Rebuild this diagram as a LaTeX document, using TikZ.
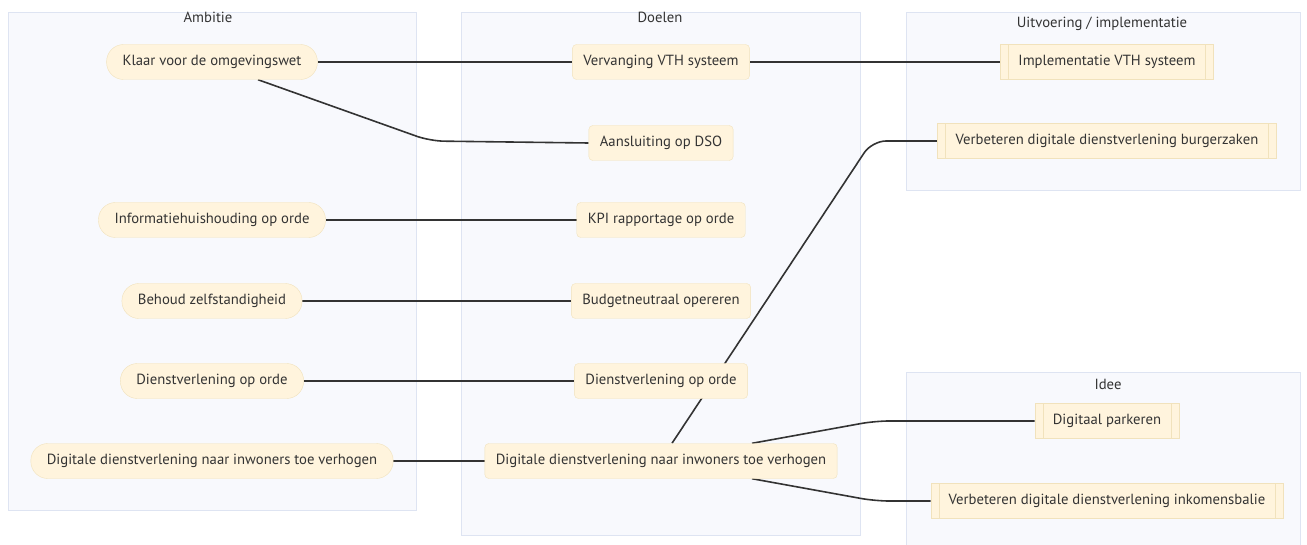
\documentclass[tikz,border=0pt]{standalone}
\usepackage{fontspec}
\setmainfont{PT Sans}
\usetikzlibrary{backgrounds}
\definecolor{ink}{HTML}{333333}
\definecolor{nodefill}{HTML}{FFF4DD}
\definecolor{nodeline}{HTML}{F1E2BC}
\definecolor{boxfill}{HTML}{F8F9FD}
\definecolor{boxline}{HTML}{DEE4F2}
\tikzset{
  ambitie/.style={draw=nodeline, fill=nodefill, rounded corners=17pt, minimum height=35pt, inner xsep=16pt, text=ink, font=\fontsize{14.7}{16}\selectfont},
  doel/.style={draw=nodeline, fill=nodefill, rounded corners=4pt, minimum height=35pt, inner xsep=11pt, text=ink, font=\fontsize{14.7}{16}\selectfont},
  uitvoer/.style={draw=nodeline, fill=nodefill, minimum height=35pt, inner xsep=18pt, text=ink, font=\fontsize{14.7}{16}\selectfont,
    path picture={
      \draw[nodeline] ([xshift=8pt]path picture bounding box.north west) -- ([xshift=8pt]path picture bounding box.south west);
      \draw[nodeline] ([xshift=-8pt]path picture bounding box.north east) -- ([xshift=-8pt]path picture bounding box.south east);
    }},
  groep/.style={draw=boxline, fill=boxfill},
  titel/.style={text=ink, font=\fontsize{14.7}{16}\selectfont},
  lijn/.style={draw=ink, line width=1.6pt, rounded corners=14pt}
}
\begin{document}
\begin{tikzpicture}[x=1pt, y=-1pt]
        \useasboundingbox (0,0) rectangle (1307,545);

        % Ambitie
        \node [ambitie] (A1) at (212, 62) {Klaar voor de omgevingswet};
        \node [ambitie] (A2) at (212, 220) {Informatiehuishouding op orde};
        \node [ambitie] (A3) at (212, 301) {Behoud zelfstandigheid};
        \node [ambitie] (A4) at (212, 381) {Dienstverlening op orde};
        \node [ambitie] (A5) at (212, 461) {Digitale dienstverlening naar inwoners toe verhogen};

        % Doelen
        \node [doel] (D1) at (661, 62) {Vervanging VTH systeem};
        \node [doel] (D2) at (661, 143) {Aansluiting op DSO};
        \node [doel] (D3) at (661, 220) {KPI rapportage op orde};
        \node [doel] (D4) at (661, 301) {Budgetneutraal opereren};
        \node [doel] (D5) at (661, 381) {Dienstverlening op orde};
        \node [doel] (D6) at (661, 461) {Digitale dienstverlening naar inwoners toe verhogen};

        % Uitvoering / implementatie
        \node [uitvoer] (U1) at (1107, 62) {Implementatie VTH systeem};
        \node [uitvoer] (U2) at (1107, 141) {Verbeteren digitale dienstverlening burgerzaken};

        % Idee
        \node [uitvoer] (I1) at (1107, 421) {Digitaal parkeren};
        \node [uitvoer] (I2) at (1107, 501) {Verbeteren digitale dienstverlening inkomensbalie};

        % Bends
        \coordinate (kA1D2) at (430, 141);
        \coordinate (kD6U2) at (872, 141);
        \coordinate (kD6I1) at (875, 421);
        \coordinate (kD6I2) at (875, 501);

        \begin{scope}[on background layer]
        % Groups
        \draw[groep] (8, 12) rectangle (416, 510);
        \draw[groep] (461, 12) rectangle (860, 535);
        \draw[groep] (906, 12) rectangle (1300, 190);
        \draw[groep] (906, 372) rectangle (1300, 560);
        \node [titel] (tAmbitie) at (208, 17) {Ambitie};
        \node [titel] (tDoelen) at (660, 17) {Doelen};
        \node [titel] (tUitvoering) at (1102, 24) {Uitvoering / implementatie};
        \node [titel] (tIdee) at (1108, 384) {Idee};

        % Edges
        \draw[lijn] (A1) -- (D1);
        \draw[lijn] ([xshift=46pt]A1.south) -- (kA1D2) -- (D2.west);
        \draw[lijn] (A2) -- (D3);
        \draw[lijn] (A3) -- (D4);
        \draw[lijn] (A4) -- (D5);
        \draw[lijn] (A5) -- (D6);
        \draw[lijn] (D1) -- (U1);
        \draw[lijn] ([xshift=11pt]D6.north) -- (kD6U2) -- (U2.west);
        \draw[lijn] ([xshift=91pt]D6.north) -- (kD6I1) -- (I1.west);
        \draw[lijn] ([xshift=91pt]D6.south) -- (kD6I2) -- (I2.west);
        \end{scope}
    \end{tikzpicture}
\end{document}
